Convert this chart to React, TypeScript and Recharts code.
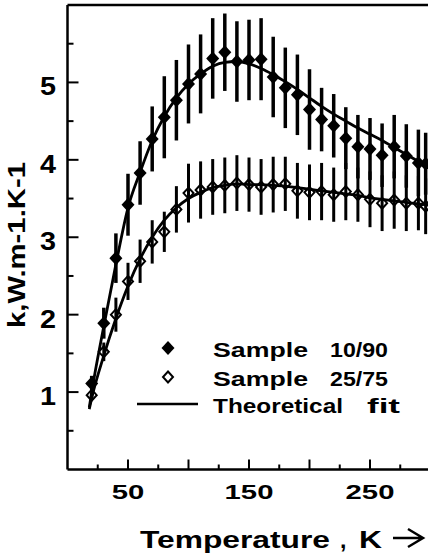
import { ComposedChart, Line, Scatter, XAxis, YAxis, ErrorBar, Customized } from 'recharts';

// temperatures of the measured points, K
const temps = [20, 30, 40, 50, 60, 70, 80, 90, 100, 110, 120, 130, 140, 150, 160, 170, 180, 190, 200, 210, 220, 230, 240, 250, 260, 270, 280, 290, 296];

// sample 10/90 (filled diamonds)
const k1090 = [1.11, 1.89, 2.73, 3.42, 3.83, 4.27, 4.55, 4.77, 4.98, 5.11, 5.31, 5.39, 5.27, 5.29, 5.3, 5.07, 4.93, 4.84, 4.65, 4.52, 4.44, 4.28, 4.17, 4.14, 4.06, 4.17, 4.05, 3.96, 3.95];
const err1090 = [0.1, 0.2, 0.32, 0.4, 0.41, 0.42, 0.53, 0.52, 0.51, 0.51, 0.52, 0.5, 0.52, 0.52, 0.53, 0.52, 0.52, 0.52, 0.52, 0.41, 0.41, 0.4, 0.41, 0.4, 0.41, 0.41, 0.41, 0.43, 0.4];

// sample 25/75 (open diamonds)
const k2575 = [0.96, 1.52, 2.0, 2.43, 2.69, 2.94, 3.07, 3.36, 3.57, 3.61, 3.65, 3.67, 3.7, 3.68, 3.65, 3.68, 3.69, 3.6, 3.58, 3.59, 3.55, 3.59, 3.55, 3.49, 3.44, 3.48, 3.44, 3.44, 3.4];
const err2575 = [0.06, 0.12, 0.22, 0.24, 0.28, 0.28, 0.26, 0.3, 0.38, 0.37, 0.36, 0.36, 0.36, 0.35, 0.36, 0.36, 0.35, 0.36, 0.36, 0.37, 0.35, 0.37, 0.35, 0.36, 0.36, 0.37, 0.36, 0.35, 0.36];

// theoretical fits
const fitTemps = [18, 20, 30, 40, 50, 60, 70, 80, 90, 100, 110, 120, 130, 140, 150, 160, 170, 180, 190, 200, 210, 220, 230, 240, 250, 260, 270, 280, 290, 300];
const fit1090 = [0.8, 1.0, 1.85, 2.65, 3.38, 3.84, 4.25, 4.56, 4.8, 4.98, 5.11, 5.21, 5.26, 5.27, 5.24, 5.18, 5.1, 5.01, 4.91, 4.8, 4.69, 4.59, 4.5, 4.41, 4.33, 4.25, 4.16, 4.07, 3.98, 3.9];
const fit2575 = [0.78, 0.92, 1.47, 1.95, 2.37, 2.72, 3.0, 3.22, 3.38, 3.5, 3.58, 3.64, 3.67, 3.69, 3.68, 3.68, 3.67, 3.66, 3.64, 3.62, 3.6, 3.58, 3.56, 3.54, 3.51, 3.49, 3.47, 3.45, 3.43, 3.41];

const bottomTicks = [25, 50, 75, 100, 125, 150, 175, 200, 225, 250, 275];
const bottomLabels = [50, 150, 250];
const topTicks = [20, 40, 60, 80, 100, 120, 140, 160, 180, 200, 220, 240, 260, 280];
const yTicks = [0.5, 1, 1.5, 2, 2.5, 3, 3.5, 4, 4.5, 5, 5.5];
const yLabels = [1, 2, 3, 4, 5];

const pts1090 = temps.map((t, i) => ({ t, k: k1090[i], err: err1090[i] }));
const pts2575 = temps.map((t, i) => ({ t, k: k2575[i], err: err2575[i] }));
const line1090 = fitTemps.map((t, i) => ({ t, k: fit1090[i] }));
const line2575 = fitTemps.map((t, i) => ({ t, k: fit2575[i] }));

const FONT = '"Liberation Sans", Arial, Helvetica, sans-serif';
const frame = { stroke: '#000', strokeWidth: 2.5 };

const diamond = (cx: number, cy: number, w: number, h: number) =>
  `M${cx},${cy - h}L${cx + w},${cy}L${cx},${cy + h}L${cx - w},${cy}Z`;

const FilledDiamond = (p: any) => <path d={diamond(p.cx, p.cy, 6.5, 7)} fill='#000' />;
const OpenDiamond = (p: any) => (
  <path d={diamond(p.cx, p.cy, 5, 5.5)} fill='none' stroke='#000' strokeWidth={2} />
);

const BottomTick = (p: any) => {
  const v = p.payload.value;
  return (
    <g>
      <line x1={p.x} x2={p.x} y1={p.y} y2={p.y - (v % 50 === 0 ? 10 : 5)} stroke='#000' strokeWidth={2} />
      {bottomLabels.includes(v) && (
        <text x={p.x} y={p.y + 29.5} textAnchor='middle' fontFamily={FONT} fontWeight='bold' fontSize={20}
          textLength={String(v).length * 16.3} lengthAdjust='spacingAndGlyphs' fill='#000'>
          {v}
        </text>
      )}
    </g>
  );
};

const TopTick = (p: any) => {
  const v = p.payload.value;
  return <line x1={p.x} x2={p.x} y1={p.y} y2={p.y + (v % 100 === 0 ? 10 : 5)} stroke='#000' strokeWidth={2} />;
};

const LeftTick = (p: any) => {
  const v = p.payload.value;
  return (
    <g>
      <line x1={p.x} x2={p.x + (Number.isInteger(v) ? 11 : 6)} y1={p.y} y2={p.y} stroke='#000' strokeWidth={2} />
      {yLabels.includes(v) && (
        <text x={56} y={p.y + 13} textAnchor='end' fontFamily={FONT} fontWeight='bold' fontSize={25}
          textLength={16} lengthAdjust='spacingAndGlyphs' fill='#000'>
          {v}
        </text>
      )}
    </g>
  );
};

const RightTick = (p: any) => {
  const v = p.payload.value;
  return <line x1={p.x} x2={p.x - (Number.isInteger(v) ? 8 : 5)} y1={p.y} y2={p.y} stroke='#000' strokeWidth={2} />;
};

const txt = { fontFamily: FONT, fontWeight: 'bold' as const, fill: '#000', lengthAdjust: 'spacingAndGlyphs' };

const Extras = () => (
  <g>
    {/* legend */}
    <path d={diamond(168, 348, 6.5, 7)} fill='#000' />
    <text {...txt} x={213} y={357} fontSize={21} textLength={95}>Sample</text>
    <text {...txt} x={330} y={357} fontSize={21} textLength={58}>10/90</text>
    <path d={diamond(168, 377, 5, 5.5)} fill='#fff' stroke='#000' strokeWidth={2} />
    <text {...txt} x={213} y={385.5} fontSize={21} textLength={95}>Sample</text>
    <text {...txt} x={330} y={385.5} fontSize={21} textLength={58}>25/75</text>
    <line x1={137} x2={198} y1={404} y2={404} stroke='#000' strokeWidth={2.5} />
    <text {...txt} x={213} y={413} fontSize={21} textLength={130}>Theoretical</text>
    <text {...txt} x={367} y={413} fontSize={21} textLength={33}>fit</text>
    {/* axis titles */}
    <text {...txt} x={0} y={0} fontSize={23} textAnchor='middle' textLength={166} transform='translate(25 245) rotate(-90)'>
      k,W.m-1.K-1
    </text>
    <text {...txt} x={140} y={548} fontSize={23} textLength={190}>Temperature</text>
    <text {...txt} x={340} y={548} fontSize={23}>,</text>
    <text {...txt} x={359} y={548} fontSize={23} textLength={23}>K</text>
    <path d='M393,538L422,538M408,529L423,538L408,547' fill='none' stroke='#000' strokeWidth={2.5} />
  </g>
);

export default function App() {
  return (
    <div style={{ position: 'absolute', left: 0, top: 0, width: 428, height: 559, overflow: 'hidden', background: '#fff' }}>
      <ComposedChart width={440} height={559} margin={{ top: 4, right: 8.5, bottom: 88.5, left: 66.5 }}>
        <XAxis xAxisId='b' dataKey='t' type='number' domain={[0, 300]} ticks={bottomTicks} interval={0}
          height={1} tickSize={0} tickMargin={0} tickLine={false} axisLine={frame} tick={BottomTick} />
        <XAxis xAxisId='t' orientation='top' dataKey='t' type='number' domain={[0, 300]} ticks={topTicks} interval={0}
          height={1} tickSize={0} tickMargin={0} tickLine={false} axisLine={frame} tick={TopTick} />
        <YAxis yAxisId='l' dataKey='k' type='number' domain={[0, 6]} ticks={yTicks} interval={0}
          width={1} tickSize={0} tickMargin={0} tickLine={false} axisLine={frame} tick={LeftTick} />
        <YAxis yAxisId='r' orientation='right' dataKey='k' type='number' domain={[0, 6]} ticks={yTicks} interval={0}
          width={1} tickSize={0} tickMargin={0} tickLine={false} axisLine={frame} tick={RightTick} />
        <Line xAxisId='b' yAxisId='l' data={line1090} dataKey='k' type='monotone' stroke='#000' strokeWidth={2.8}
          dot={false} activeDot={false} isAnimationActive={false} />
        <Line xAxisId='b' yAxisId='l' data={line2575} dataKey='k' type='monotone' stroke='#000' strokeWidth={2.8}
          dot={false} activeDot={false} isAnimationActive={false} />
        <Scatter xAxisId='b' yAxisId='l' data={pts1090} dataKey='k' shape={FilledDiamond} isAnimationActive={false}>
          <ErrorBar dataKey='err' direction='y' width={0} stroke='#000' strokeWidth={3.5} />
        </Scatter>
        <Scatter xAxisId='b' yAxisId='l' data={pts2575} dataKey='k' shape={OpenDiamond} isAnimationActive={false}>
          <ErrorBar dataKey='err' direction='y' width={0} stroke='#000' strokeWidth={3} />
        </Scatter>
        <Customized component={Extras} />
      </ComposedChart>
    </div>
  );
}
